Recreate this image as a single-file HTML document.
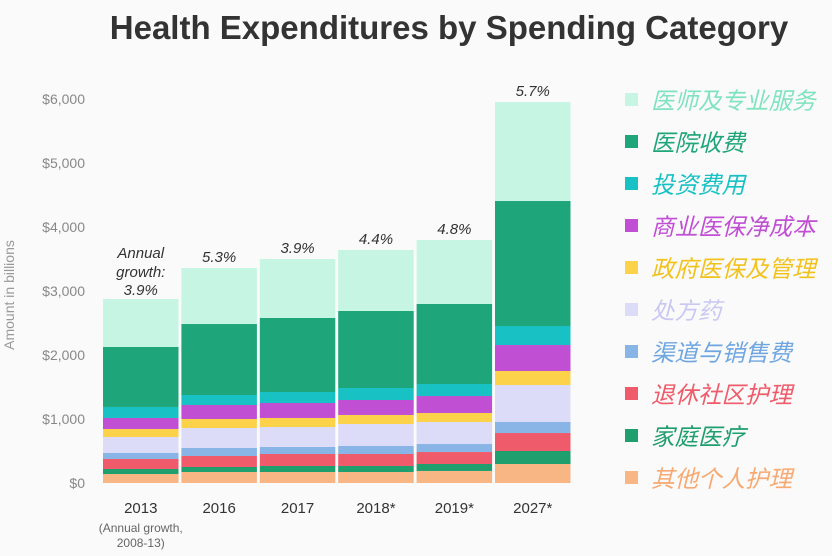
<!DOCTYPE html>
<html><head><meta charset="utf-8"><style>
body{margin:0;background:#fafafa;}
svg{display:block;font-family:"Liberation Sans","Noto Sans CJK SC",sans-serif;}
</style></head><body>
<svg id="c" width="832" height="556" viewBox="0 0 832 556">
<rect width="832" height="556" fill="#fafafa"/>
<text x="449" y="39" text-anchor="middle" font-size="33" font-weight="bold" fill="#333">Health Expenditures by Spending Category</text>
<text transform="translate(14,295) rotate(-90)" text-anchor="middle" font-size="14" fill="#999">Amount in billions</text>
<g id="g"></g>
</svg>
<script>
const years = ["2013","2016","2017","2018*","2019*","2027*"];
const growth = ["3.9%","5.3%","3.9%","4.4%","4.8%","5.7%"];
const categories = ["其他个人护理","家庭医疗","退休社区护理","渠道与销售费","处方药","政府医保及管理","商业医保净成本","投资费用","医院收费","医师及专业服务"];
const otherCare = [140,172,172,172,188,297];
const homeHealth = [79,78,94,94,109,203];
const nursing = [156,172,187,187,187,281];
const channel = [94,125,110,125,125,172];
const drugs = [250,312,312,344,344,578];
const govAdmin = [125,141,141,141,141,219];
const privIns = [172,219,234,234,265,406];
const invest = [172,156,172,187,188,297];
const hospital = [937,1109,1156,1204,1250,1953];
const physician = [750,875,922,953,1000,1547];
const yTicks = [0,1000,2000,3000,4000,5000,6000];
const yTickLabels = ["$0","$1,000","$2,000","$3,000","$4,000","$5,000","$6,000"];
const series = [otherCare,homeHealth,nursing,channel,drugs,govAdmin,privIns,invest,hospital,physician];
const colors = ["#f8b684","#1f9e6e","#ef5b6b","#88b4e6","#dcdcf8","#fbd24a","#c04fd4","#17c1c4","#1fa57a","#c6f5e4"];
const names = ["other-personal-care","home-health","nursing-care","channel-sales","prescription-drugs","gov-admin","private-insurance","investment","hospital","physician-services"];
const NS="http://www.w3.org/2000/svg";
const g=document.getElementById('g');
const y0=483, k=0.064, x0=103, pitch=78.4, bw=75.5;
const Y=v=>y0-v*k, X=i=>x0+i*pitch;
function el(t,a,txt){const e=document.createElementNS(NS,t);for(const n in a)e.setAttribute(n,a[n]);if(txt!=null)e.textContent=txt;g.appendChild(e);return e;}
yTicks.forEach((t,i)=>{
 const e=el('text',{x:85,y:Y(t)+5,'text-anchor':'end','font-size':14,fill:'#888'},yTickLabels[i]);
 
 
});
years.forEach((yr,i)=>{
 let cum=0;
 series.forEach((s,j)=>{
  const r=el('rect',{x:X(i),y:Y(cum+s[i]),width:bw,height:s[i]*k,fill:colors[j]});
  
  
  cum+=s[i];
 });
 const cx=X(i)+bw/2;
 const lt=el('text',{x:cx,y:513,'text-anchor':'middle','font-size':15,fill:'#333'},yr);
 
 
 if(i===0){
  const a=el('text',{x:cx,y:Y(cum)-41,'text-anchor':'middle','font-size':15,'font-style':'italic',fill:'#333'},'Annual');
  
  
  const b=el('text',{x:cx,y:Y(cum)-22,'text-anchor':'middle','font-size':15,'font-style':'italic',fill:'#333'},'growth:');
  
  
  const c=el('text',{x:cx,y:Y(cum)-4,'text-anchor':'middle','font-size':15,'font-style':'italic',fill:'#333'},growth[i]);
  
  
 } else {
  const c=el('text',{x:cx,y:Y(cum)-6,'text-anchor':'middle','font-size':15,'font-style':'italic',fill:'#333'},growth[i]);
  
  
 }
});
const n1=el('text',{x:X(0)+bw/2,y:532,'text-anchor':'middle','font-size':12,fill:'#666'},'(Annual growth,');


const n2=el('text',{x:X(0)+bw/2,y:547,'text-anchor':'middle','font-size':12,fill:'#666'},'2008-13)');


const legColors=["#c6f5e4","#1fa57a","#17c1c4","#c04fd4","#fbd24a","#dcdcf8","#88b4e6","#ef5b6b","#1f9e6e","#f8b684"];
const legText=["#7fe3c0","#1fa57a","#17c1c4","#c04fd4","#f2c21c","#c8c8f2","#6fa6e0","#ef5b6b","#1f9e6e","#f6aa72"];
categories.slice().reverse().forEach((c,i)=>{
 const yy=100+i*42;
 const r=el('rect',{x:625,y:yy-7,width:13,height:13,fill:legColors[i]});
 
 
 const t=el('text',{x:651,y:yy+9,'font-size':23.5,'font-style':'italic',fill:legText[i]},c);
 
 
});
</script>
</body></html>
